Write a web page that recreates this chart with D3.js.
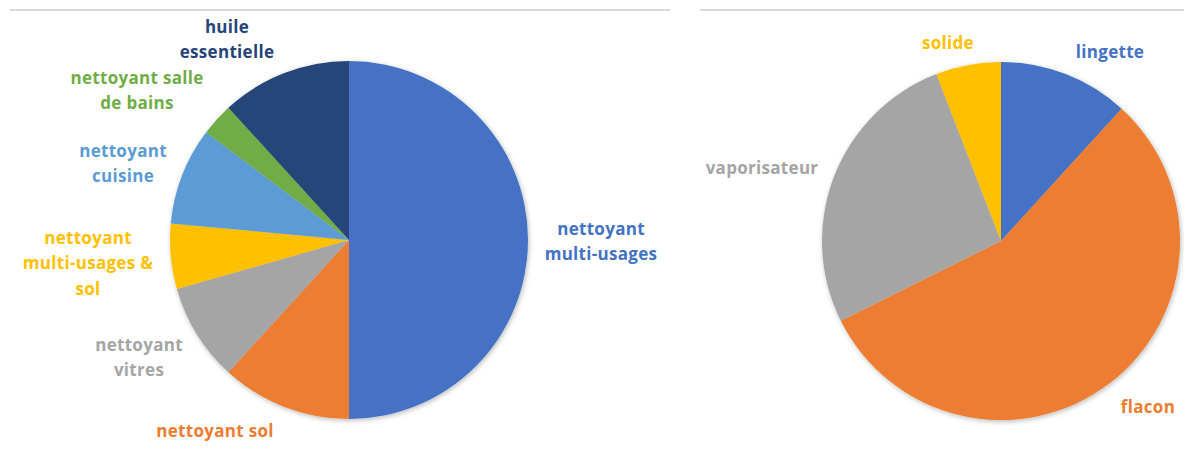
<!DOCTYPE html>
<html><head><meta charset="utf-8">
<script src="https://cdn.jsdelivr.net/npm/d3@7"></script>
<style>html,body{margin:0;padding:0;background:#fff;}svg{display:block;}</style>
</head><body>
<svg id="c" width="1184" height="468"></svg>
<script>
// Left pie: types of products
const leftCategories = ["nettoyant multi-usages","nettoyant sol","nettoyant vitres","nettoyant multi-usages & sol","nettoyant cuisine","nettoyant salle de bains","huile essentielle"];
const leftValues = [17, 4, 3, 2, 3, 1, 4];
const leftColors = ["#4472C4","#ED7D31","#A5A5A5","#FFC000","#5B9BD5","#70AD47","#264478"];
const leftLabelLines = [["nettoyant","multi-usages"],["nettoyant sol"],["nettoyant","vitres"],["nettoyant","multi-usages &","sol"],["nettoyant","cuisine"],["nettoyant salle","de bains"],["huile","essentielle"]];

// Right pie: packaging
const rightCategories = ["lingette","flacon","vaporisateur","solide"];
const rightValues = [4, 19, 9, 2];
const rightColors = ["#4472C4","#ED7D31","#A5A5A5","#FFC000"];
const rightLabelLines = [["lingette"],["flacon"],["vaporisateur"],["solide"]];

// layout (label centre offsets from pie centre, in px, first line)
const leftLabelOffsets = [[252,-11],[-134,191],[-210,105],[-261,-2],[-226,-89],[-212,-162],[-122,-213]];
const rightLabelOffsets = [[109,-189],[147,166],[-239,-73],[-53,-198]];

const svg = d3.select("#c");
const defs = svg.append("defs");
const f = defs.append("filter").attr("id","sh").attr("x","-10%").attr("y","-10%").attr("width","120%").attr("height","120%");
f.append("feDropShadow").attr("dx",1).attr("dy",1.5).attr("stdDeviation",2.5).attr("flood-color","#000").attr("flood-opacity",0.28);

// top rules
svg.append("line").attr("x1",10).attr("x2",670).attr("y1",10).attr("y2",10).attr("stroke","#D9D9D9").attr("stroke-width",2);
svg.append("line").attr("x1",700).attr("x2",1184).attr("y1",10).attr("y2",10).attr("stroke","#D9D9D9").attr("stroke-width",2);

function drawPie(cx, cy, r, cats, vals, colors, lines, offsets){
  const g = svg.append("g").attr("transform",`translate(${cx},${cy})`);
  const pie = d3.pie().sort(null).value(d=>d.v);
  const data = pie(cats.map((c,i)=>({c, v: vals[i], i})));
  const arc = d3.arc().innerRadius(0).outerRadius(r);
  g.append("g").attr("filter","url(#sh)").selectAll("path").data(data).join("path")
    .attr("d",arc).attr("fill",d=>colors[d.data.i]);
  const lh = 25.5;
  const lg = g.selectAll("text.lbl").data(data).join("text")
    .attr("class","lbl")
    .attr("text-anchor","middle")
    .attr("font-family","'Open Sans', Lato, sans-serif")
    .attr("font-weight","bold")
    .attr("font-size","17px")
    .attr("letter-spacing","0.3px")
    .attr("fill",d=>colors[d.data.i])
    .attr("transform",d=>`translate(${offsets[d.data.i][0]},${offsets[d.data.i][1]})`);
  lg.selectAll("tspan").data(d=>lines[d.data.i]).join("tspan")
    .attr("x",0).attr("dy",(d,j)=> j===0? "0.35em" : lh).text(d=>d);
}

drawPie(349, 240, 179, leftCategories, leftValues, leftColors, leftLabelLines, leftLabelOffsets);
drawPie(1001, 241, 179, rightCategories, rightValues, rightColors, rightLabelLines, rightLabelOffsets);
</script>
</body></html>
